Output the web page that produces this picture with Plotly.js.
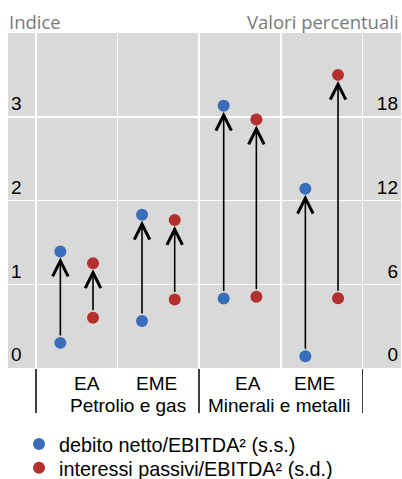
<!DOCTYPE html>
<html>
<head>
<meta charset="utf-8">
<script src="https://cdn.plot.ly/plotly-3.0.1.min.js"></script>
<style>html,body{margin:0;padding:0;background:#fff;}#chart{width:402px;height:479px;}</style>
</head>
<body>
<div id="chart"></div>
<script>
// ---- data ----
const categories = ['EA', 'EME', 'EA', 'EME'];
const groups = ['Petrolio e gas', 'Minerali e metalli'];
const debitoStart = [0.30, 0.56, 0.83, 0.14];     // left axis (indice)
const debitoEnd = [1.39, 1.83, 3.13, 2.14];
const interessiStart = [3.6, 4.9, 5.1, 5.0];      // right axis (valori percentuali)
const interessiEnd = [7.5, 10.6, 17.8, 21.0];
const leftTicks = [0, 1, 2, 3];
const rightTicks = [0, 6, 12, 18];
const seriesNames = ['debito netto/EBITDA² (s.s.)', 'interessi passivi/EBITDA² (s.d.)'];

// ---- style ----
const BLUE = '#3a6ebb', RED = '#b4302f';
const OFF = 0.2;
const FONT = 'Liberation Sans, Arial, sans-serif';
const catIdx = categories.map((_, i) => i);
const labelShift = [10, -2, 8, -7];
const groupShift = [10, -1];

function pairs(arrA, arrB, off) {
  const xs = [], ys = [];
  catIdx.forEach(i => { xs.push(i + off, i + off); ys.push(arrA[i], arrB[i]); });
  return {xs, ys};
}
const b = pairs(debitoStart, debitoEnd, -OFF);
const r = pairs(interessiStart, interessiEnd, OFF);

const traces = [
  {x: b.xs, y: b.ys, type: 'scatter', mode: 'markers', name: seriesNames[0],
   marker: {color: BLUE, size: 12}, yaxis: 'y', hoverinfo: 'skip', legend: 'legend'},
  {x: r.xs, y: r.ys, type: 'scatter', mode: 'markers', name: seriesNames[1],
   marker: {color: RED, size: 12}, yaxis: 'y2', hoverinfo: 'skip', legend: 'legend2'}
];

const ARROW = {text: '', showarrow: true, arrowhead: 5, arrowsize: 1.9, arrowwidth: 1.6,
  arrowcolor: '#000', standoff: 6, startstandoff: 6};
const annotations = [];
catIdx.forEach(i => {
  annotations.push(Object.assign({x: i - OFF, y: debitoEnd[i], ax: i - OFF, ay: debitoStart[i],
    xref: 'x', yref: 'y', axref: 'x', ayref: 'y'}, ARROW));
  annotations.push(Object.assign({x: i + OFF, y: interessiEnd[i], ax: i + OFF, ay: interessiStart[i],
    xref: 'x', yref: 'y2', axref: 'x', ayref: 'y2'}, ARROW));
  annotations.push({x: i, xref: 'x', y: -0.045, yref: 'paper', yanchor: 'middle',
    text: categories[i], showarrow: false, xshift: labelShift[i],
    font: {family: FONT, size: 19, color: '#000'}});
});
groups.forEach((g, k) => {
  annotations.push({x: 2 * k + 0.5, xref: 'x', y: -0.112, yref: 'paper', yanchor: 'middle',
    text: g, showarrow: false, xshift: groupShift[k],
    font: {family: FONT, size: 19, color: '#000'}});
});
annotations.push({x: 0, xref: 'paper', xanchor: 'left', y: 1.035, yref: 'paper', yanchor: 'middle',
  text: 'Indice', showarrow: false, xshift: -1,
  font: {family: 'Open Sans, sans-serif', size: 18.5, color: '#7a7a7a'}});
annotations.push({x: 1, xref: 'paper', xanchor: 'right', y: 1.035, yref: 'paper', yanchor: 'middle',
  text: 'Valori percentuali', showarrow: false, xshift: 0,
  font: {family: 'Open Sans, sans-serif', size: 18.5, color: '#7a7a7a'}});

const legendStyle = {xanchor: 'left', yanchor: 'top', orientation: 'v',
  font: {family: FONT, size: 19.8, color: '#000'}, bgcolor: 'rgba(0,0,0,0)', itemclick: false};

const layout = {
  width: 402, height: 479,
  margin: {l: 8, r: 1, t: 33, b: 111, pad: 0, autoexpand: false},
  paper_bgcolor: '#ffffff', plot_bgcolor: '#d9d9d9',
  showlegend: true,
  legend: Object.assign({x: 0.028, y: -0.169}, legendStyle),
  legend2: Object.assign({x: 0.028, y: -0.240}, legendStyle),
  xaxis: {range: [-0.841, 3.971], tickmode: 'array', tickvals: [-0.5, 1.5, 3.5],
    showticklabels: false, showgrid: true, gridcolor: '#ffffff', gridwidth: 1.5,
    ticks: 'outside', ticklen: 44, tickwidth: 1.5, tickcolor: '#404040',
    minor: {tickmode: 'array', tickvals: [0.5, 2.5], showgrid: true, gridcolor: '#ffffff', gridwidth: 1.5, ticks: ''},
    zeroline: false, showline: false, fixedrange: true},
  yaxis: {range: [0, 4], tickmode: 'array', tickvals: leftTicks, ticktext: leftTicks.map(String),
    ticklabelposition: 'inside top', showgrid: true, gridcolor: '#ffffff', gridwidth: 1.5,
    zeroline: false, showline: false, ticks: '',
    tickfont: {family: FONT, size: 19, color: '#000'}, fixedrange: true},
  yaxis2: {range: [0, 24], tickmode: 'array', tickvals: rightTicks, ticktext: rightTicks.map(String),
    overlaying: 'y', side: 'right', ticklabelposition: 'inside top', showgrid: false,
    zeroline: false, showline: false, ticks: '',
    tickfont: {family: FONT, size: 19, color: '#000'}, fixedrange: true},
  annotations: annotations
};

Plotly.newPlot('chart', traces, layout, {displayModeBar: false, staticPlot: true});
</script>
</body>
</html>
